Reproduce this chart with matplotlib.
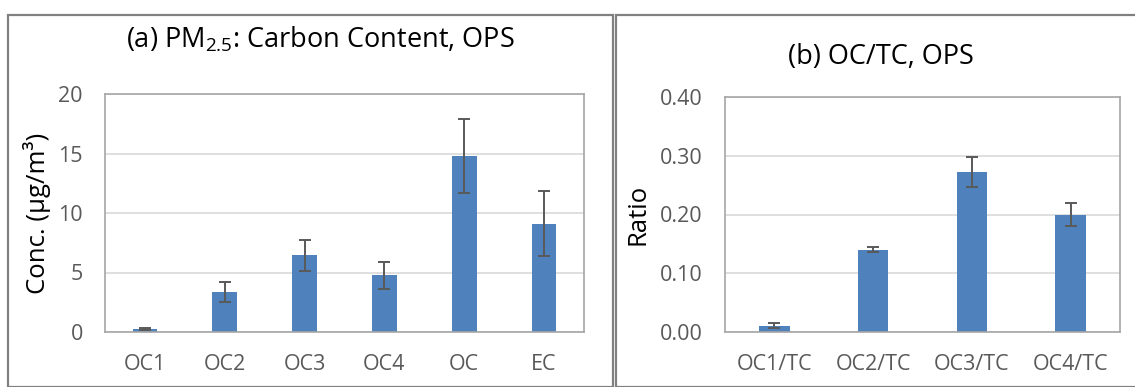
import matplotlib
matplotlib.use('Agg')
import matplotlib.pyplot as plt
from matplotlib.patches import Rectangle

plt.rcParams['font.family'] = ['Open Sans', 'DejaVu Sans']
plt.rcParams['mathtext.default'] = 'regular'

# carbon fractions (ug/m3) with standard deviations
carbon_labels = ['OC1', 'OC2', 'OC3', 'OC4', 'OC', 'EC']
carbon_conc = [0.25, 3.33, 6.45, 4.75, 14.8, 9.1]
carbon_err = [0.1, 0.85, 1.3, 1.15, 3.1, 2.75]

# OC fraction to total carbon ratios
ratio_labels = ['OC1/TC', 'OC2/TC', 'OC3/TC', 'OC4/TC']
ratio_vals = [0.011, 0.140, 0.272, 0.200]
ratio_err = [0.004, 0.004, 0.026, 0.019]

BAR = '#4F81BD'
ERR = '#595959'
GRID = '#D9D9D9'
FRAME = '#A6A6A6'
TICK = '#595959'

W, H = 1135, 387
fig = plt.figure(figsize=(W / 100, H / 100), dpi=100)


def px_axes(x0, y0, x1, y1):
    return fig.add_axes([x0 / W, 1 - y1 / H, (x1 - x0) / W, (y1 - y0) / H])


def style(ax):
    for s in ax.spines.values():
        s.set_color(FRAME)
        s.set_linewidth(1.2)
    ax.yaxis.grid(True, color=GRID, linewidth=1.2)
    ax.set_axisbelow(True)
    ax.tick_params(length=0, colors=TICK, labelsize=15.5)
    ax.tick_params(axis='x', pad=16)
    ax.tick_params(axis='y', pad=16)


# panel frames
fig.add_artist(Rectangle((8 / W, 0), (613 - 8) / W, 1 - 15 / H, transform=fig.transFigure,
                         fill=False, edgecolor='#808080', linewidth=1.6))
fig.add_artist(Rectangle((616 / W, 0), (1140 - 616) / W, 1 - 15 / H, transform=fig.transFigure,
                         fill=False, edgecolor='#808080', linewidth=1.6))

err_style = dict(ecolor=ERR, elinewidth=1.4, capsize=4.5, capthick=1.4)

# (a) carbon content
ax1 = px_axes(105, 94, 584, 332)
x = range(len(carbon_labels))
ax1.bar(x, carbon_conc, width=0.31, color=BAR, yerr=carbon_err, error_kw=err_style)
ax1.set_xticks(list(x))
ax1.set_xticklabels(carbon_labels)
ax1.set_xlim(-0.5, len(carbon_labels) - 0.5)
ax1.set_ylim(0, 20)
ax1.set_yticks([0, 5, 10, 15, 20])
style(ax1)
ax1.set_ylabel('Conc. (μg/m³)', fontsize=18.5, color='black', va='center')
ax1.yaxis.set_label_coords((37 - 105) / 479, 0.5)
fig.text(320 / W, 1 - 40 / H, r'(a) PM$_{2.5}$: Carbon Content, OPS',
         ha='center', va='center', fontsize=19.5)

# (b) OC/TC ratios
ax2 = px_axes(725, 97, 1120, 332)
x = range(len(ratio_labels))
ax2.bar(x, ratio_vals, width=0.31, color=BAR, yerr=ratio_err, error_kw=err_style)
ax2.set_xticks(list(x))
ax2.set_xticklabels(ratio_labels)
ax2.set_xlim(-0.5, len(ratio_labels) - 0.5)
ax2.set_ylim(0, 0.40)
ax2.set_yticks([0, 0.1, 0.2, 0.3, 0.4])
ax2.set_yticklabels(['%.2f' % v for v in [0, 0.1, 0.2, 0.3, 0.4]])
style(ax2)
ax2.set_ylabel('Ratio', fontsize=18.5, color='black', va='center')
ax2.yaxis.set_label_coords((638 - 725) / 395, 0.5)
fig.text(881 / W, 1 - 57 / H, '(b) OC/TC, OPS', ha='center', va='center', fontsize=19.5)

fig.savefig('out.png', dpi=100)
